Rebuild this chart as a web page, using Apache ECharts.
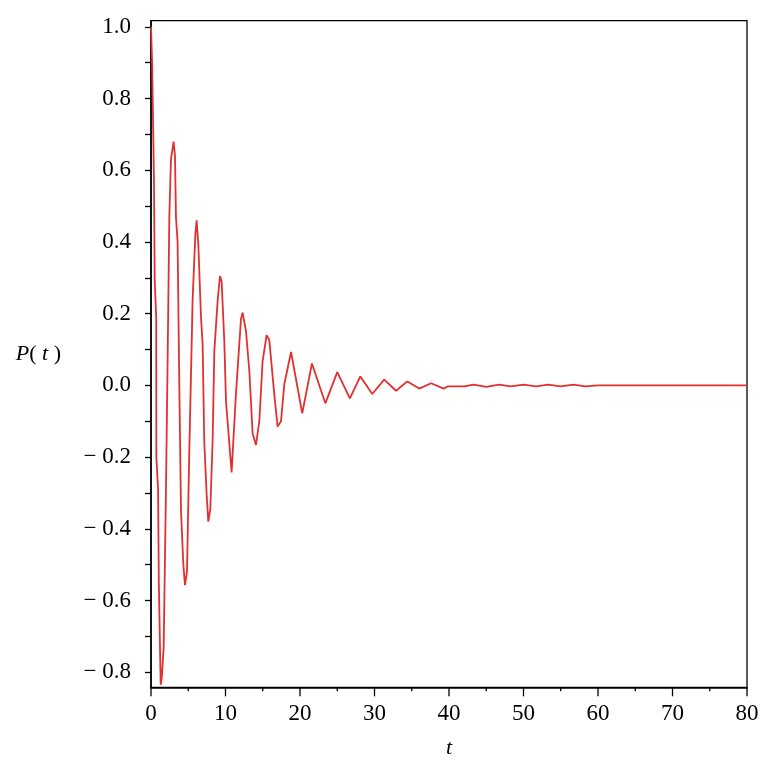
<!DOCTYPE html>
<html>
<head>
<meta charset="utf-8">
<script src="https://cdn.jsdelivr.net/npm/echarts@6/dist/echarts.min.js"></script>
<style>html,body{margin:0;padding:0;background:#fff}#c{width:770px;height:770px}</style>
</head>
<body>
<div id="c"></div>
<script>
const tValues = [0, 0.15, 0.4, 0.5, 0.7, 0.72, 0.95, 1.05, 1.3, 1.45, 1.7, 2.0, 2.23, 2.46, 2.68, 3.04, 3.22, 3.35, 3.57, 3.8, 4.03, 4.34, 4.56, 4.83, 5.14, 5.37, 5.58, 5.95, 6.12, 6.35, 6.71, 6.93, 7.15, 7.47, 7.69, 7.96, 8.27, 8.5, 8.94, 9.26, 9.48, 9.84, 10.07, 10.82, 11.4, 11.85, 12.08, 12.3, 12.75, 13.2, 13.64, 14.09, 14.54, 14.98, 15.52, 15.88, 16.55, 16.99, 17.09, 17.45, 17.89, 18.8, 20.3, 21.6, 23.4, 25.0, 26.7, 28.1, 29.7, 31.3, 32.9, 34.4, 36.0, 37.6, 39.3, 39.8, 42.0, 43.3, 45.0, 46.7, 48.3, 50.0, 51.7, 53.3, 55.0, 56.7, 58.3, 60.0, 80.0];
const pValues = [1.0, 0.9, 0.57, 0.29, 0.19, -0.2, -0.29, -0.55, -0.835, -0.815, -0.73, -0.305, 0.067, 0.47, 0.63, 0.68, 0.64, 0.47, 0.4, 0.0, -0.35, -0.5, -0.557, -0.52, -0.185, 0.03, 0.235, 0.42, 0.46, 0.395, 0.19, 0.115, -0.157, -0.305, -0.38, -0.345, -0.157, 0.095, 0.235, 0.305, 0.29, 0.123, -0.045, -0.243, -0.025, 0.115, 0.185, 0.203, 0.151, 0.04, -0.134, -0.166, -0.1, 0.067, 0.14, 0.126, -0.025, -0.115, -0.12, -0.1, 0.003, 0.093, -0.078, 0.061, -0.05, 0.037, -0.036, 0.025, -0.024, 0.016, -0.015, 0.011, -0.009, 0.006, -0.009, -0.003, -0.003, 0.002, -0.004, 0.002, -0.003, 0.002, -0.003, 0.002, -0.003, 0.002, -0.003, 0, 0];
const yLabelValues = [-0.8, -0.6, -0.4, -0.2, 0.0, 0.2, 0.4, 0.6, 0.8, 1.0];
const yTickValues = [-0.8, -0.7, -0.6, -0.5, -0.4, -0.3, -0.2, -0.1, 0.0, 0.1, 0.2, 0.3, 0.4, 0.5, 0.6, 0.7, 0.8, 0.9, 1.0];
const xTickLabels = [0, 10, 20, 30, 40, 50, 60, 70, 80];
const xMinorTicks = [5, 15, 25, 35, 45, 55, 65, 75];
const yMin = -0.842, yMax = 1.017;

const FONT = '"Liberation Serif", "Times New Roman", serif';
const chart = echarts.init(document.getElementById('c'), null, {renderer: 'canvas'});
const data = tValues.map((t, i) => [t, pValues[i]]);
chart.setOption({
  animation: false,
  backgroundColor: '#fff',
  grid: {left: 151, right: 23, top: 20.7, bottom: 82.7, show: true, borderColor: '#000', borderWidth: 1.3, backgroundColor: 'transparent'},
  xAxis: {
    type: 'value', min: xTickLabels[0], max: xTickLabels[xTickLabels.length - 1], interval: 10,
    name: 't', nameLocation: 'middle', nameGap: 50,
    nameTextStyle: {fontFamily: FONT, fontStyle: 'italic', fontSize: 22, color: '#000'},
    axisLine: {show: true, onZero: false, lineStyle: {color: '#000', width: 1.5}},
    axisTick: {show: false},
    splitLine: {show: false},
    axisLabel: {fontFamily: FONT, fontSize: 23, color: '#000', margin: 15}
  },
  yAxis: {
    type: 'value', min: yMin, max: yMax,
    name: '{i|P}( {i|t} )', nameLocation: 'middle', nameRotate: 0, nameGap: 90,
    nameTextStyle: {fontFamily: FONT, fontSize: 22, color: '#000', align: 'right',
      rich: {i: {fontFamily: FONT, fontStyle: 'italic', fontSize: 22, color: '#000'}}},
    axisLine: {show: true, lineStyle: {color: '#000', width: 1.5}},
    axisTick: {show: true, length: 6, customValues: yTickValues, lineStyle: {color: '#000', width: 1.3}},
    splitLine: {show: false},
    axisLabel: {fontFamily: FONT, fontSize: 23, color: '#000', margin: 20, customValues: yLabelValues,
      formatter: v => (v < -1e-9 ? '\u2212 ' + Math.abs(v).toFixed(1) : Math.abs(v).toFixed(1))}
  },
  series: [{
    type: 'line', data: data, showSymbol: false, smooth: false,
    lineStyle: {color: '#e0302f', width: 1.8}, clip: true
  }]
});

// x-axis ticks placed through the library's own x scale
const yBottom = chart.convertToPixel({yAxisIndex: 0}, yMin);
const tickEls = [];
xTickLabels.forEach(v => {
  const x = chart.convertToPixel({xAxisIndex: 0}, v);
  tickEls.push({type: 'line', silent: true, shape: {x1: x, y1: yBottom, x2: x, y2: yBottom + 9}, style: {stroke: '#000', lineWidth: 1.3}});
});
xMinorTicks.forEach(v => {
  const x = chart.convertToPixel({xAxisIndex: 0}, v);
  tickEls.push({type: 'line', silent: true, shape: {x1: x, y1: yBottom, x2: x, y2: yBottom + 4}, style: {stroke: '#000', lineWidth: 1.3}});
});
chart.setOption({graphic: tickEls});
</script>
</body>
</html>
